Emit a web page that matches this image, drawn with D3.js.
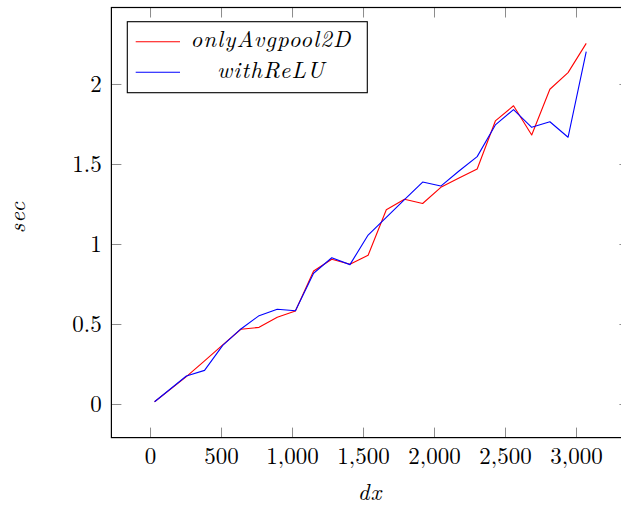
<!DOCTYPE html>
<html>
<head>
<meta charset="utf-8">
<script src="https://cdn.jsdelivr.net/npm/d3@7"></script>
<style>
  html, body { margin: 0; padding: 0; background: #fff; }
  svg { display: block; }
</style>
</head>
<body>
<svg id="chart" width="621" height="506"></svg>
<script>
// ---- data ----
const dx = [32, 256, 384, 512, 640, 768, 896, 1024, 1152, 1280, 1408, 1536,
            1664, 1792, 1920, 2048, 2176, 2304, 2432, 2560, 2688, 2816, 2944, 3072];
const onlyAvgpool2D = [0.014, 0.171, 0.27, 0.369, 0.467, 0.479, 0.542, 0.581, 0.831, 0.905, 0.873, 0.93,
                       1.214, 1.28, 1.253, 1.354, 1.412, 1.469, 1.769, 1.864, 1.681, 1.967, 2.071, 2.254];
const withReLU = [0.014, 0.175, 0.21, 0.366, 0.469, 0.552, 0.592, 0.583, 0.817, 0.914, 0.871, 1.056,
                  1.167, 1.277, 1.387, 1.362, 1.456, 1.546, 1.744, 1.84, 1.729, 1.764, 1.667, 2.202];
const seriesNames = ["onlyAvgpool2D", "withReLU"];
const seriesColors = ["#ff0000", "#0000ff"];
const xTicks = [0, 500, 1000, 1500, 2000, 2500, 3000];
const yTicks = [0, 0.5, 1, 1.5, 2];
const xLabel = "dx";
const yLabel = "sec";

// ---- layout ----
const FONT = '"Latin Modern Roman", "Liberation Serif", serif';
const svg = d3.select("#chart");
const pL = 111.4, pR = 629.4, pT = 7.5, pB = 437.6;

const x = d3.scaleLinear().domain([-272, 3376]).range([pL, pR]);
const y = d3.scaleLinear().domain([-0.21, 2.478]).range([pB, pT]);

const tickColor = "#8c8c8c";
const fs = 23;

// bottom axis (ticks inward + labels)
const gB = svg.append("g").attr("transform", `translate(0,${pB})`)
  .call(d3.axisBottom(x).tickValues(xTicks).tickSize(-10).tickFormat(d3.format(",")));
gB.attr("font-family", FONT).attr("font-size", fs);
gB.select(".domain").remove();
gB.selectAll(".tick line").attr("stroke", tickColor).attr("stroke-width", 1);
gB.selectAll(".tick text").attr("y", 26).attr("dy", "0")
  .attr("font-family", FONT).attr("font-size", fs).attr("fill", "#000");

// top axis (ticks only)
const gT = svg.append("g").attr("transform", `translate(0,${pT})`)
  .call(d3.axisTop(x).tickValues(xTicks).tickSize(-10).tickFormat(""));
gT.select(".domain").remove();
gT.selectAll(".tick line").attr("stroke", tickColor).attr("stroke-width", 1);

// left axis
const gL = svg.append("g").attr("transform", `translate(${pL},0)`)
  .call(d3.axisLeft(y).tickValues(yTicks).tickSize(-10).tickFormat(d3.format("")));
gL.attr("font-family", FONT).attr("font-size", fs);
gL.select(".domain").remove();
gL.selectAll(".tick line").attr("stroke", tickColor).attr("stroke-width", 1);
gL.selectAll(".tick text").attr("x", -9.7).attr("dy", "0.33em")
  .attr("font-family", FONT).attr("font-size", fs).attr("fill", "#000");

// right axis (ticks only)
const gR = svg.append("g").attr("transform", `translate(${pR},0)`)
  .call(d3.axisRight(y).tickValues(yTicks).tickSize(-10).tickFormat(""));
gR.select(".domain").remove();
gR.selectAll(".tick line").attr("stroke", tickColor).attr("stroke-width", 1);

// lines
const line = d3.line().x((d, i) => x(dx[i])).y(d => y(d));
[onlyAvgpool2D, withReLU].forEach((vals, k) => {
  svg.append("path").datum(vals)
    .attr("d", line)
    .attr("fill", "none")
    .attr("stroke", seriesColors[k])
    .attr("stroke-width", 1.1)
    .attr("stroke-linejoin", "round");
});

// frame
svg.append("rect")
  .attr("x", pL).attr("y", pT)
  .attr("width", pR - pL).attr("height", pB - pT)
  .attr("fill", "none").attr("stroke", "#000").attr("stroke-width", 1.2);

// axis labels
svg.append("text").attr("x", 370).attr("y", 500)
  .attr("font-family", FONT).attr("text-anchor", "middle").attr("font-style", "italic")
  .attr("letter-spacing", 1)
  .attr("font-size", fs).attr("fill", "#000").text(xLabel);
svg.append("text")
  .attr("transform", `translate(24.5,217) rotate(-90)`)
  .attr("font-family", FONT).attr("text-anchor", "middle").attr("font-style", "italic")
  .attr("letter-spacing", 1)
  .attr("font-size", fs).attr("fill", "#000").text(yLabel);

// legend
const lg = svg.append("g");
lg.append("rect").attr("x", 127.3).attr("y", 21.7).attr("width", 240).attr("height", 71)
  .attr("fill", "#fff").attr("stroke", "#000").attr("stroke-width", 1.1);
const rowsY = [41.7, 72.3];
seriesNames.forEach((name, k) => {
  lg.append("line").attr("x1", 135.7).attr("x2", 180).attr("y1", rowsY[k]).attr("y2", rowsY[k])
    .attr("stroke", seriesColors[k]).attr("stroke-width", 1.1);
  lg.append("text").attr("x", 271).attr("y", rowsY[k] + 5.5)
    .attr("font-family", FONT).attr("text-anchor", "middle").attr("font-style", "italic")
    .attr("letter-spacing", 1.1)
    .attr("font-size", fs).attr("fill", "#000").text(name);
});
</script>
</body>
</html>
